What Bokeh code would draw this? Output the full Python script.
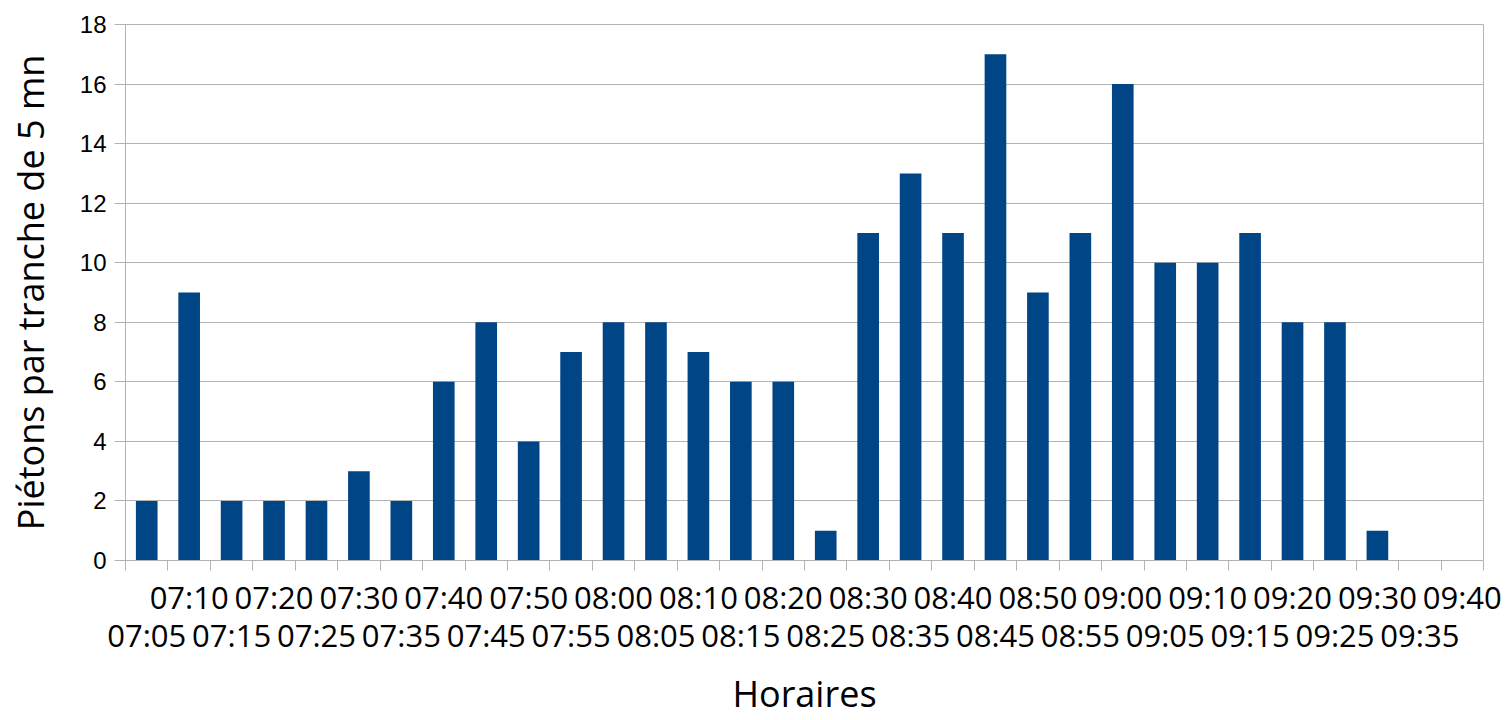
from bokeh.plotting import figure
from bokeh.models import LinearAxis, FixedTicker, Range1d, ColumnDataSource
from bokeh.embed import file_html
from bokeh.resources import INLINE

times = ["07:05", "07:10", "07:15", "07:20", "07:25", "07:30", "07:35", "07:40",
         "07:45", "07:50", "07:55", "08:00", "08:05", "08:10", "08:15", "08:20",
         "08:25", "08:30", "08:35", "08:40", "08:45", "08:50", "08:55", "09:00",
         "09:05", "09:10", "09:15", "09:20", "09:25", "09:30", "09:35", "09:40"]
counts = [2, 9, 2, 2, 2, 3, 2, 6,
          8, 4, 7, 8, 8, 7, 6, 6,
          1, 11, 13, 11, 17, 9, 11, 16,
          10, 10, 11, 8, 8, 1, 0, 0]
y_ticks = [0, 2, 4, 6, 8, 10, 12, 14, 16, 18]
x_title = "Horaires"
y_title = "Piétons par tranche de 5 mn"

GRAY = "#b3b3b3"
BLUE = "#004586"

n = len(times)
xs = [i + 0.5 for i in range(n)]
src = ColumnDataSource(dict(x=xs, top=counts, t=times))

p = figure(width=1506, height=720, output_backend="svg", toolbar_location=None,
           x_range=Range1d(0, n), y_range=Range1d(0, max(y_ticks)),
           x_axis_type=None,
           min_border_left=125, min_border_right=23, min_border_top=24,
           min_border_bottom=160)
p.outline_line_color = GRAY
p.background_fill_color = "white"
p.border_fill_color = "white"

p.vbar(x="x", top="top", width=0.51, source=src, fill_color=BLUE, line_color=None)

# Y axis
ya = p.yaxis[0]
ya.ticker = FixedTicker(ticks=y_ticks)
ya.major_label_text_font = "Liberation Sans"
ya.major_label_text_font_size = "24px"
ya.major_label_text_color = "black"
ya.axis_line_color = GRAY
ya.major_tick_line_color = GRAY
ya.major_tick_out = 11
ya.major_tick_in = 0
ya.minor_tick_line_color = None
ya.major_label_standoff = 8
ya.axis_label = y_title
ya.axis_label_text_font = "Open Sans"
ya.axis_label_text_font_size = "36px"
ya.axis_label_text_font_style = "normal"
ya.axis_label_text_color = "black"
ya.axis_label_standoff = 22
p.ygrid.grid_line_color = GRAY
p.ygrid.ticker = FixedTicker(ticks=y_ticks)

odd = [i for i in range(n) if i % 2 == 1]
even = [i for i in range(n) if i % 2 == 0]

ax1 = LinearAxis(ticker=FixedTicker(ticks=[xs[i] for i in odd],
                                    minor_ticks=list(range(n + 1))))
ax1.major_label_overrides = {xs[i]: times[i] for i in odd}
ax1.major_tick_line_color = None
ax1.major_tick_out = 0
ax1.major_tick_in = 0
ax1.minor_tick_line_color = GRAY
ax1.minor_tick_out = 10
ax1.minor_tick_in = 0
ax1.axis_line_color = GRAY
ax1.major_label_text_font = "Open Sans"
ax1.major_label_text_font_size = "31px"
ax1.major_label_text_color = "black"
ax1.major_label_standoff = 5

ax2 = LinearAxis(ticker=FixedTicker(ticks=[xs[i] for i in even]))
ax2.major_label_overrides = {xs[i]: times[i] for i in even}
ax2.major_tick_line_color = None
ax2.major_tick_out = 0
ax2.major_tick_in = 0
ax2.minor_tick_line_color = None
ax2.minor_tick_out = 0
ax2.axis_line_color = None
ax2.major_label_text_font = "Open Sans"
ax2.major_label_text_font_size = "31px"
ax2.major_label_text_color = "black"
ax2.major_label_standoff = -7
ax2.axis_label = x_title
ax2.axis_label_text_font = "Open Sans"
ax2.axis_label_text_font_size = "36px"
ax2.axis_label_text_font_style = "normal"
ax2.axis_label_text_color = "black"
ax2.axis_label_standoff = 10

p.add_layout(ax1, "below")
p.add_layout(ax2, "below")

open("out.html", "w").write(file_html(p, INLINE))
